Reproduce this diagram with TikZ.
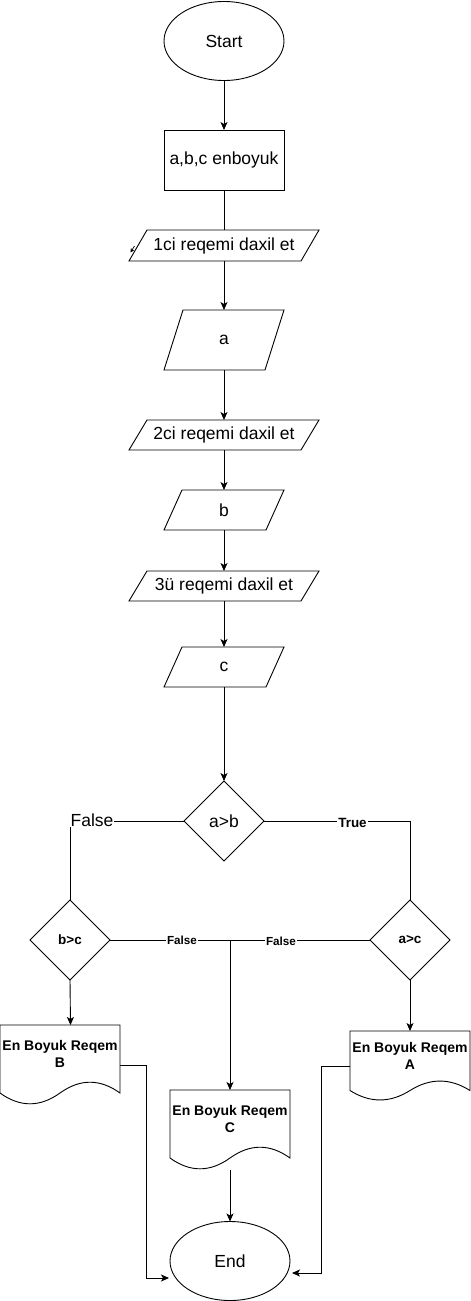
\documentclass[tikz,border=0pt]{standalone}
\usepackage{fontspec}
\setmainfont{Liberation Sans}
\usetikzlibrary{shapes.geometric,arrows.meta}
\newcommand{\paraframe}[2]{\draw[line] ([xshift=#2pt]#1.north west) -- (#1.north east) -- ([xshift=-#2pt]#1.south east) -- (#1.south west) -- cycle;}
\newcommand{\docshape}[4]{%
 \draw[line] (#1,#2) -- ({#1+#3},#2) -- ({#1+#3},{#2+0.85*#4})
  .. controls ({#1+0.8333*#3},{#2+0.67*#4}) and ({#1+0.6667*#3},{#2+0.67*#4}) .. ({#1+0.5*#3},{#2+0.85*#4})
  .. controls ({#1+0.3333*#3},{#2+1.03*#4}) and ({#1+0.1667*#3},{#2+1.03*#4}) .. (#1,{#2+0.85*#4}) -- cycle;}
\begin{document}
\begin{tikzpicture}[x=1pt,y=-1pt,
  every node/.style={inner sep=0pt, outer sep=0pt, font=\fontsize{17.5}{21}\selectfont},
  line/.style={draw=black, line width=0.9pt},
  arr/.style={line, -{Stealth[length=8pt,width=7pt,inset=2pt]}},
  smallarr/.style={line, line width=0.7pt, -{Stealth[length=4pt,width=4pt,inset=1pt]}},
  term/.style={ellipse, draw, line width=0.9pt, minimum width=120pt, minimum height=79pt},
  procbox/.style={rectangle, draw, line width=0.9pt, minimum width=120pt, minimum height=60pt},
  iobox/.style={rectangle, minimum width=#1},
  decide/.style={diamond, draw, line width=0.9pt, minimum width=80pt, minimum height=80pt},
  docbox/.style={rectangle, minimum width=120pt},
  doctext/.style={align=center, font=\fontsize{14}{17}\selectfont\bfseries},
  biglbl/.style={fill=white, inner sep=1pt},
  truelbl/.style={fill=white, inner sep=1pt, font=\fontsize{13.4}{16}\selectfont\bfseries},
  smlbl/.style={fill=white, inner sep=1pt, font=\fontsize{11.7}{14}\selectfont\bfseries}
]
\useasboundingbox (0,0) rectangle (471,1301);
\fill[white] (0,0) rectangle (471,1301);

\node[term] (start) at (224,41) {Start};
\node[procbox] (box) at (224,160) {a,b,c enboyuk};

\node[iobox=190pt, minimum height=31pt] (p1) at (224,245.5) {1ci reqemi daxil et};
\paraframe{p1}{18}
\node[iobox=120pt, minimum height=60pt] (pa) at (224,340) {a};
\paraframe{pa}{19}
\node[iobox=190pt, minimum height=30pt] (p2) at (224,435) {2ci reqemi daxil et};
\paraframe{p2}{18}
\node[iobox=120pt, minimum height=40pt] (pb) at (224,510) {b};
\paraframe{pb}{18}
\node[iobox=190pt, minimum height=30pt] (p3) at (224,586) {3ü reqemi daxil et};
\paraframe{p3}{18}
\node[iobox=120pt, minimum height=40pt] (pc) at (224,667) {c};
\paraframe{pc}{18}

\node[decide] (d1) at (224,821) {a>b};
\node[decide, font=\fontsize{13.5}{16}\selectfont\bfseries] (d2) at (70,940) {b>c};
\node[decide, font=\fontsize{13.5}{16}\selectfont\bfseries] (d3) at (410,940) {a>c};

\node[docbox, minimum height=80pt] (docB) at (60,1065) {};
\docshape{0}{1025}{120}{80}
\node[doctext] (docBt) at (60,1053.5) {En Boyuk Reqem\\B};
\node[docbox, minimum height=80pt] (docC) at (230,1130) {};
\docshape{170}{1090}{120}{80}
\node[doctext] (docCt) at (230,1118.5) {En Boyuk Reqem\\C};
\node[docbox, minimum height=70pt] (docA) at (410,1066) {};
\docshape{350}{1031}{120}{70}
\node[doctext] (docAt) at (410,1055.5) {En Boyuk Reqem\\A};

\node[term] (end) at (230,1261) {End};

\coordinate (m) at (230,940);
\coordinate (eB) at (169,1278);
\coordinate (eA) at (292,1273);
\coordinate (stubA) at (134.5,246);
\coordinate (stubB) at (130.5,252.5);

\draw[arr] (start) -- (box);
\draw[line] (box) -- (p1);
\draw[smallarr] (stubA) -- (stubB);
\draw[arr] (p1) -- (pa);
\draw[arr] (pa) -- (p2);
\draw[arr] (p2) -- (pb);
\draw[arr] (pb) -- (p3);
\draw[arr] (p3) -- (pc);
\draw[arr] (pc) -- (d1);
\draw[line] (d1.west) -| (d2.north);
\draw[line] (d1.east) -| (d3.north);
\draw[line] (d2.east) -- (m);
\draw[line] (d3.west) -- (m);
\draw[arr] (m) -- (docC.north);
\draw[arr] (d2.south) -- ([xshift=0.5pt]d2.south |- docB.north);
\draw[arr] (d3.south) -- (docA.north);
\draw[arr] (docC.south) -- (end.north);
\draw[arr] (docB.east) -- ++(26,0) |- (eB);
\draw[arr] (docA.west) -- ++(-29,0) |- (eA);

\node[biglbl] (lf1) at (92,820) {False};
\node[truelbl] (lt) at (352.5,823) {True};
\node[smlbl] (lf2) at (182,940) {False};
\node[smlbl] (lf3) at (281,941) {False};
\end{tikzpicture}
\end{document}
